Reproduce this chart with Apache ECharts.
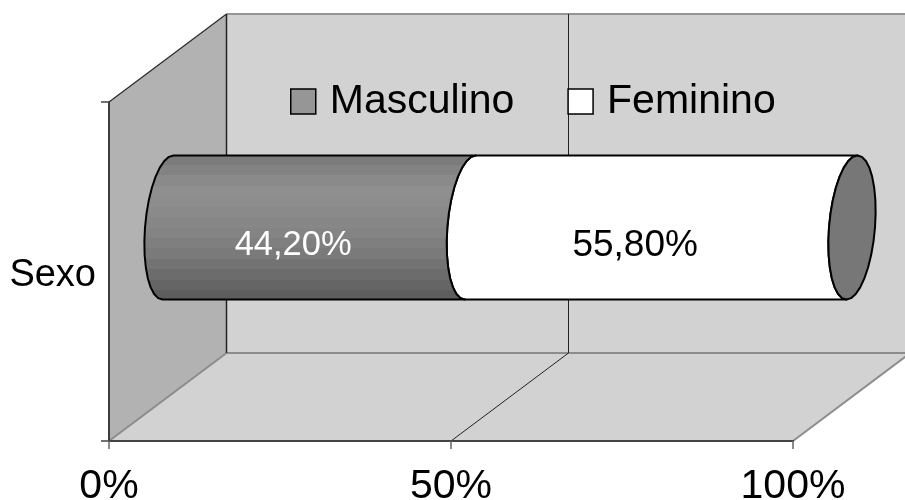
<!DOCTYPE html>
<html>
<head>
<meta charset="utf-8">
<style>html,body{margin:0;padding:0;background:#fff}#c{width:905px;height:500px}</style>
<script src="https://cdn.jsdelivr.net/npm/echarts@6/dist/echarts.min.js"></script>
</head>
<body>
<div id="c"></div>
<script>
const categories = ['Sexo'];
const seriesNames = ['Masculino', 'Feminino'];
const masculino = [44.2];
const feminino = [55.8];
const xMin = 0, xMax = 100, xStep = 50;
const xTicks = [0, 50, 100];

const FONT = '"Liberation Sans", Arial, sans-serif';
const DEPTH = [117.5, -88];           // 3D depth vector of the plot box
const MID = [59, -44];                // cylinder axis sits half way back
const LABEL = [33, -26];              // data label offset
const RX = 23, SKEW = 5.5;            // end-cap ellipse shape
const BAR_RATIO = 0.425;
const bands = ['#7b7b7b','#838383','#8a8a8a','#8f8f8f','#8d8d8d','#8a8a8a','#878787','#848484','#7f7f7f','#7a7a7a','#737373','#6c6c6c','#656565','#5e5e5e'];
const bandStops = [];
bands.forEach((c, i) => {
  bandStops.push({offset: i / bands.length, color: c});
  bandStops.push({offset: (i + 1) / bands.length, color: c});
});

function arc(cx, cy, h, from, to, n) {
  const pts = [];
  for (let i = 0; i <= n; i++) {
    const t = (from + (to - from) * i / n) * Math.PI / 180;
    pts.push([cx + RX * Math.cos(t) + SKEW * Math.sin(t), cy - h * Math.sin(t)]);
  }
  return pts;
}
function poly(points, style, z2) {
  return {type: 'polygon', shape: {points}, style, z2: z2 || 0};
}
function line(a, b, stroke, w, z2) {
  return {type: 'line', shape: {x1: a[0], y1: a[1], x2: b[0], y2: b[1]}, style: {stroke, lineWidth: w, fill: null}, z2: z2 || 1};
}
const back = p => [p[0] + DEPTH[0], p[1] + DEPTH[1]];

function renderWalls(params, api) {
  const band = api.size([0, 1])[1];
  const bl = api.coord([xMin, 0]); bl[1] += band / 2;
  const br = api.coord([xMax, 0]); br[1] += band / 2;
  const tl = [bl[0], bl[1] - band];
  const bbl = back(bl), bbr = back(br), btl = back(tl), btr = [bbr[0], btl[1]];
  const kids = [
    poly([bbl, bbr, btr, btl], {fill: '#d2d2d2'}),
    poly([bl, bbl, btl, tl], {fill: '#b2b2b2'}),
    poly([bl, br, bbr, bbl], {fill: '#d2d2d2'}),
    line(btl, btr, '#969696', 2),
    line(bbl, bbr, '#8c8c8c', 2),
    line(bl, bbl, '#8c8c8c', 2),
    line(br, bbr, '#8c8c8c', 2),
    line(tl, btl, '#2a2a2a', 1.2),
    line(btl, bbl, '#222222', 1.5),
    line(tl, bl, '#333333', 1.5)
  ];
  xTicks.slice(1, -1).forEach(v => {
    const p = api.coord([v, 0]); p[1] = bl[1];
    const q = back(p);
    kids.push(line(p, q, '#222222', 1, 2));
    kids.push(line(q, [q[0], btl[1]], '#222222', 1, 2));
  });
  return {type: 'group', children: kids};
}

function segment(start, end, text, fill, textFill, fontSize, withCap) {
  return function (params, api) {
    const band = api.size([0, 1])[1];
    const h = band * BAR_RATIO / 2;
    const a = api.coord([start, 0]), b = api.coord([end, 0]);
    const m = api.coord([(start + end) / 2, 0]);
    const ax = a[0] + MID[0], bx = b[0] + MID[0], cy = a[1] + MID[1];
    const leftA = arc(ax, cy, h, 90, 270, 16);
    const leftB = arc(bx, cy, h, 270, 90, 16);
    const kids = [poly(leftA.concat(leftB), {fill, stroke: '#000', lineWidth: 2, lineJoin: 'round'})];
    if (withCap) {
      kids.push(poly(arc(bx, cy, h, 0, 360, 32), {fill: '#777777', stroke: '#000', lineWidth: 2, lineJoin: 'round'}, 2));
    }
    kids.push({
      type: 'text', z2: 5,
      style: {text, x: m[0] + LABEL[0], y: m[1] + LABEL[1], fill: textFill,
              font: fontSize + 'px ' + FONT, align: 'center', verticalAlign: 'middle'}
    });
    return {type: 'group', children: kids};
  };
}
const pct = v => v.toFixed(2).replace('.', ',') + '%';

const chart = echarts.init(document.getElementById('c'), null, {renderer: 'canvas'});
chart.setOption({
  animation: false,
  backgroundColor: '#ffffff',
  grid: {left: 109, right: 112, top: 102, bottom: 59, outerBoundsMode: 'none'},
  legend: {
    left: 285, top: 76, itemWidth: 25, itemHeight: 25, itemGap: 53,
    icon: 'rect',
    textStyle: {fontFamily: FONT, fontSize: 41, color: '#000', padding: [0, 0, 0, 9]},
    data: [
      {name: seriesNames[0], itemStyle: {color: '#969696', borderColor: '#000', borderWidth: 1.5}},
      {name: seriesNames[1], itemStyle: {color: '#ffffff', borderColor: '#000', borderWidth: 1.5}}
    ]
  },
  xAxis: {
    type: 'value', min: xMin, max: xMax, interval: xStep, z: 10,
    axisLine: {show: true, lineStyle: {color: '#444', width: 2}},
    axisTick: {show: true, length: 8, lineStyle: {color: '#666', width: 1.5}},
    splitLine: {show: false},
    axisLabel: {formatter: '{value}%', fontFamily: FONT, fontSize: 41, color: '#000', margin: 25}
  },
  yAxis: {
    type: 'category', data: categories, z: 10,
    axisLine: {show: true, onZero: false, lineStyle: {color: '#333', width: 1.5}},
    axisTick: {show: true, length: 8, lineStyle: {color: '#444', width: 1.5}},
    splitLine: {show: false},
    axisLabel: {fontFamily: FONT, fontSize: 38, color: '#000', margin: 13, verticalAlign: 'top', lineHeight: 8}
  },
  series: [
    {type: 'custom', name: 'walls', z: 1, silent: true, encode: {x: 0, y: 1}, data: [[0, 0]], renderItem: renderWalls},
    {type: 'custom', name: seriesNames[1], z: 3, silent: true, color: '#ffffff', encode: {x: 0, y: 1},
     data: [[feminino[0], 0]],
     renderItem: segment(masculino[0], masculino[0] + feminino[0], pct(feminino[0]), '#ffffff', '#000000', 37, true)},
    {type: 'custom', name: seriesNames[0], z: 4, silent: true, color: '#969696', encode: {x: 0, y: 1},
     data: [[masculino[0], 0]],
     renderItem: segment(0, masculino[0], pct(masculino[0]),
       {type: 'linear', x: 0, y: 0, x2: 0, y2: 1, colorStops: bandStops}, '#ffffff', 34.5, false)}
  ]
});
</script>
</body>
</html>
